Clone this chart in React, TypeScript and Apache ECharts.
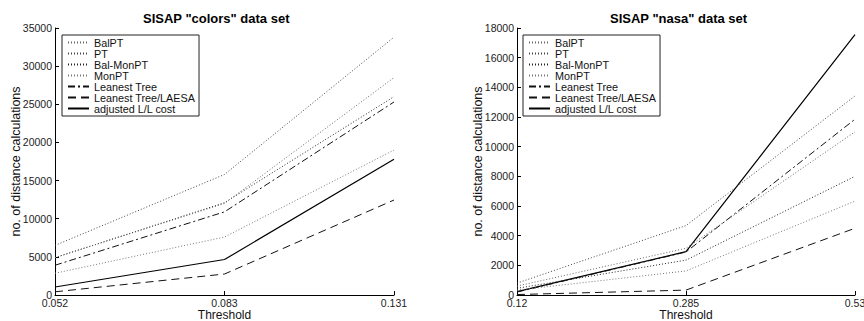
import React, { useEffect, useRef } from "react";
import * as echarts from "echarts";

const seriesNames = ["BalPT", "PT", "Bal-MonPT", "MonPT", "Leanest Tree", "Leanest Tree/LAESA", "adjusted L/L cost"];

const colorsThresholds = ["0.052", "0.083", "0.131"];
const colorsBalPT = [4900, 12000, 28500];
const colorsPT = [6500, 15800, 33800];
const colorsBalMonPT = [4900, 12100, 26000];
const colorsMonPT = [2850, 7600, 19000];
const colorsLeanest = [3900, 10900, 25300];
const colorsLaesa = [420, 2750, 12450];
const colorsAdjusted = [1050, 4650, 17800];

const nasaThresholds = ["0.12", "0.285", "0.53"];
const nasaBalPT = [600, 3150, 11000];
const nasaPT = [800, 4680, 13420];
const nasaBalMonPT = [450, 2350, 8000];
const nasaMonPT = [330, 1620, 6330];
const nasaLeanest = [200, 2900, 11850];
const nasaLaesa = [30, 330, 4500];
const nasaAdjusted = [230, 2920, 17550];

const colorsYTicks = { min: 0, max: 35000, interval: 5000 };
const nasaYTicks = { min: 0, max: 18000, interval: 2000 };

const styles = [
  { color: "#666", type: [1, 2] },
  { color: "#444", type: [1, 2] },
  { color: "#222", type: [1, 2] },
  { color: "#777", type: [1, 2] },
  { color: "#111", type: [7, 3, 2, 3] },
  { color: "#111", type: [8, 5] },
  { color: "#000", type: "solid" },
];

export default function App() {
  const ref = useRef<HTMLDivElement>(null);
  useEffect(() => {
    if (!ref.current) return;
    const chart = echarts.init(ref.current, undefined, { renderer: "svg" });
    const font = "'Liberation Sans', Arial, Helvetica, sans-serif";
    const colorsData = [colorsBalPT, colorsPT, colorsBalMonPT, colorsMonPT, colorsLeanest, colorsLaesa, colorsAdjusted];
    const nasaData = [nasaBalPT, nasaPT, nasaBalMonPT, nasaMonPT, nasaLeanest, nasaLaesa, nasaAdjusted];
    const mkSeries = (data: number[][], idx: number) =>
      data.map((d, i) => ({
        type: "line",
        name: seriesNames[i],
        xAxisIndex: idx,
        yAxisIndex: idx,
        data: d,
        symbol: "none",
        lineStyle: { color: styles[i].color, type: styles[i].type as any, width: i === 6 ? 1.2 : 1 },
        itemStyle: { color: styles[i].color },
        z: 10 - i,
      }));
    const xAxis = (cats: string[], gi: number) => ({
      type: "category",
      gridIndex: gi,
      data: cats,
      boundaryGap: false,
      name: "Threshold",
      nameLocation: "middle",
      nameGap: 14,
      nameMoveOverlap: false,
      nameTextStyle: { fontFamily: font, fontSize: 12, lineHeight: 12, color: "#111" },
      axisLine: { lineStyle: { color: "#000", width: 1 } },
      axisTick: { inside: true, length: 4, alignWithLabel: true, lineStyle: { color: "#000" } },
      axisLabel: { fontFamily: font, fontSize: 10.5, color: "#222", margin: 2 },
      splitLine: { show: false },
    });
    const yAxis = (t: { min: number; max: number; interval: number }, gi: number) => ({
      type: "value",
      gridIndex: gi,
      min: t.min,
      max: t.max,
      interval: t.interval,
      name: "no. of distance calculations",
      nameLocation: "middle",
      nameGap: 33,
      nameMoveOverlap: false,
      nameTextStyle: { fontFamily: font, fontSize: 12.5, color: "#111" },
      axisLine: { show: true, lineStyle: { color: "#000", width: 1 } },
      axisTick: { show: true, inside: true, length: 4, lineStyle: { color: "#000" } },
      axisLabel: { fontFamily: font, fontSize: 10.5, color: "#222", margin: 3, formatter: (v: number) => String(v) },
      splitLine: { show: false },
    });
    const legend = (left: number) => ({
      orient: "vertical",
      left,
      top: 35,
      data: seriesNames,
      backgroundColor: "#fff",
      borderColor: "#222",
      borderWidth: 1,
      borderRadius: 0,
      padding: [2, 4, 2, 5],
      itemGap: 0,
      itemWidth: 21,
      itemHeight: 8,
      itemTextGap: 4,
      selectedMode: false,
      itemStyle: { color: "transparent", borderColor: "transparent", borderWidth: 0, opacity: 0 },
      textStyle: { fontFamily: font, fontSize: 10.8, lineHeight: 10.4, color: "#111" },
    });
    chart.setOption({
      animation: false,
      backgroundColor: "#fff",
      title: [
        { text: 'SISAP "colors" data set', left: 138, top: 7, textStyle: { fontFamily: font, fontSize: 13, fontWeight: "bold", color: "#000" } },
        { text: 'SISAP "nasa" data set', left: 605, top: 7, textStyle: { fontFamily: font, fontSize: 13, fontWeight: "bold", color: "#000" } },
      ],
      grid: [
        { left: 55, top: 28, width: 339, height: 267, outerBoundsMode: "none", containLabel: false },
        { left: 517, top: 28, width: 338, height: 267, outerBoundsMode: "none", containLabel: false },
      ],
      legend: [legend(62), legend(523)],
      xAxis: [xAxis(colorsThresholds, 0), xAxis(nasaThresholds, 1)],
      yAxis: [yAxis(colorsYTicks, 0), yAxis(nasaYTicks, 1)],
      series: [...mkSeries(colorsData, 0), ...mkSeries(nasaData, 1)],
    } as any);
    return () => chart.dispose();
  }, []);
  return <div ref={ref} style={{ position: "absolute", left: 0, top: 0, width: 864, height: 321 }} />;
}
